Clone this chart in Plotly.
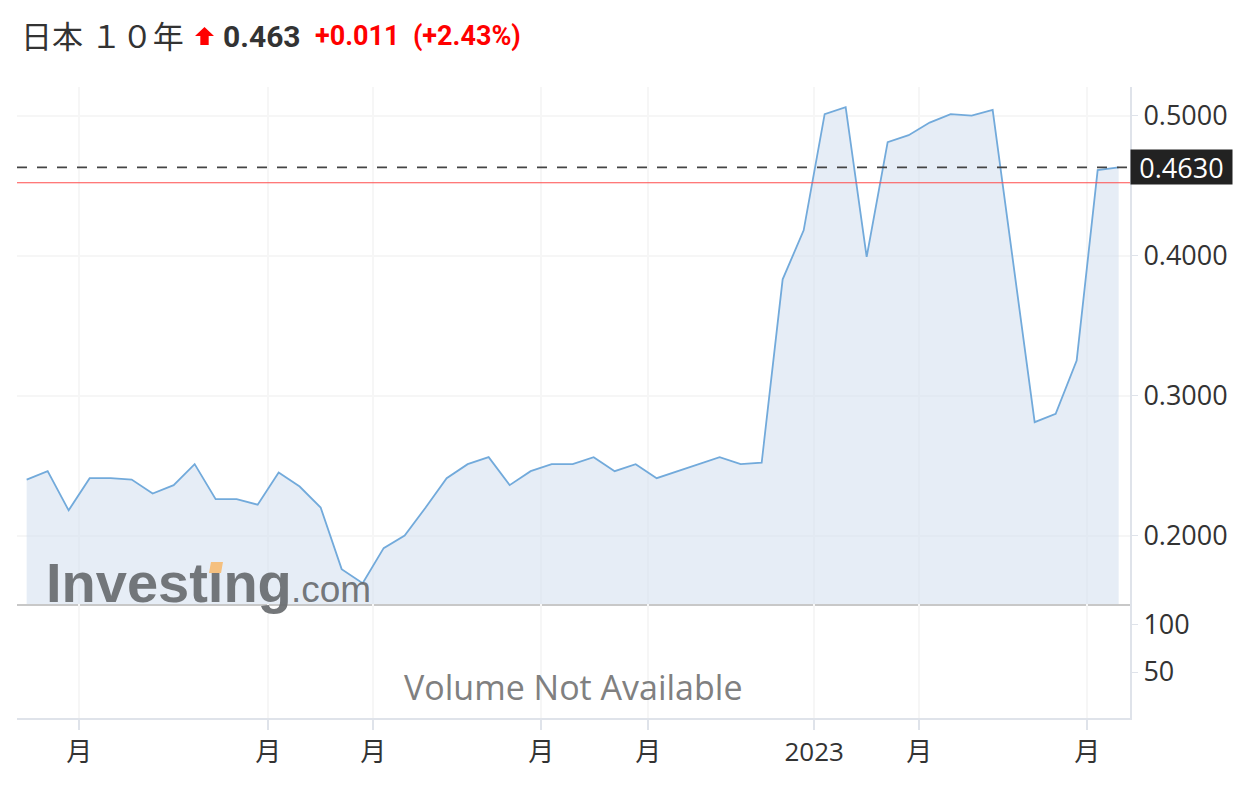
import plotly.graph_objects as go

# ---------------- data ----------------
weeks = list(range(53))
yields = [0.240, 0.246, 0.218, 0.241, 0.241, 0.240, 0.230, 0.236, 0.251, 0.226,
          0.226, 0.222, 0.245, 0.235, 0.220, 0.176, 0.166, 0.191, 0.200, 0.220,
          0.241, 0.251, 0.256, 0.236, 0.246, 0.251, 0.251, 0.256, 0.246, 0.251,
          0.241, 0.246, 0.251, 0.256, 0.251, 0.252, 0.383, 0.418, 0.501, 0.506,
          0.399, 0.481, 0.486, 0.495, 0.501, 0.500, 0.504, 0.392, 0.281, 0.287,
          0.325, 0.461, 0.463]
tick_pos = [2.5, 11.5, 16.5, 24.5, 29.6, 37.5, 42.5, 50.5]
tick_text = ["月", "月", "月", "月", "月", "2023", "月", "月"]
price_ticks = [0.2, 0.3, 0.4, 0.5]
price_tick_text = ["0.2000", "0.3000", "0.4000", "0.5000"]
vol_ticks = [50, 100]
last_value = 0.463
prev_close = 0.452
change_text = "+0.011\u00a0\u00a0(+2.43%)"
title_text = "日本\u2005１０年"

# ---------------- layout helpers ----------------
OFF = 8  # page body margin
W, H = 1250, 796
ML, MT = 17 - OFF, 87 - OFF
MR = W - (1130 - OFF)
MB = H - (718 - OFF)
PW, PH = W - ML - MR, H - MT - MB
VOL_FRAC = 114 / PH


def px(xp):
    return (xp - OFF - ML) / PW


def py(yp):
    return (H - MB - (yp - OFF)) / PH


FONT = "Open Sans, Noto Sans CJK JP, sans-serif"
GRID = "#f6f6f6"

fig = go.Figure()
fig.add_trace(go.Scatter(
    x=weeks, y=yields, mode="lines",
    line=dict(color="#72aadb", width=1.8),
    fill="tozeroy", fillcolor="rgba(205,219,238,0.5)",
    xaxis="x", yaxis="y", showlegend=False, hoverinfo="skip"))
fig.add_trace(go.Scatter(
    x=weeks, y=[None] * len(weeks), mode="lines",
    xaxis="x2", yaxis="y2", showlegend=False, hoverinfo="skip"))

# reference lines
fig.add_shape(type="line", xref="x domain", yref="y", x0=0, x1=1,
              y0=prev_close, y1=prev_close, line=dict(color="#ff4d4d", width=1))
fig.add_shape(type="line", xref="x domain", yref="y", x0=0, x1=1,
              y0=last_value, y1=last_value,
              line=dict(color="#444444", width=1.8, dash="10px,10px"))

xr = [-0.46, 52.54]
fig.update_layout(
    width=W, height=H,
    margin=dict(l=ML, r=MR, t=MT, b=MB),
    paper_bgcolor="white", plot_bgcolor="white",
    xaxis=dict(domain=[0, 1], anchor="y", range=xr, tickvals=tick_pos,
               showticklabels=False, showgrid=True, gridcolor=GRID, gridwidth=1.5,
               zeroline=False, showline=True, linecolor="#c8c8c8", linewidth=2,
               ticks=""),
    xaxis2=dict(domain=[0, 1], anchor="y2", range=xr, matches="x",
                tickvals=tick_pos, ticktext=tick_text,
                showgrid=True, gridcolor=GRID, gridwidth=1.5, zeroline=False,
                showline=True, linecolor="#dfe3ea", linewidth=2,
                ticks="outside", ticklen=10, tickcolor="#dfe3ea", tickwidth=1.5,
                tickfont=dict(family=FONT, size=26, color="#333333")),
    yaxis=dict(domain=[VOL_FRAC, 1], anchor="x", side="right",
               range=[0.1511, 0.5204], tickvals=price_ticks, ticktext=price_tick_text,
               showgrid=True, gridcolor=GRID, gridwidth=1.5, zeroline=False,
               showline=True, linecolor="#dfe3ea", linewidth=2,
               ticks="outside", ticklen=6, tickcolor="#dfe3ea",
               ticklabelstandoff=0,
               tickfont=dict(family=FONT, size=27, color="#333333")),
    yaxis2=dict(domain=[0, VOL_FRAC], anchor="x2", side="right",
                range=[2, 121], tickvals=vol_ticks,
                showgrid=False, zeroline=False,
                showline=True, linecolor="#dfe3ea", linewidth=2,
                ticks="outside", ticklen=6, tickcolor="#dfe3ea",
                ticklabelstandoff=0,
                tickfont=dict(family=FONT, size=27, color="#333333")),
)

anns = []
# last value label
anns.append(dict(x=1, xref="paper", xanchor="left", y=last_value, yref="y",
                 yanchor="middle", text=f"{last_value:.4f}", showarrow=False,
                 width=101, height=34, borderpad=0, bgcolor="#222222",
                 font=dict(family=FONT, size=27, color="white"), align="center"))
# title pieces
anns.append(dict(x=px(19), xref="paper", xanchor="left", y=py(35), yref="paper",
                 yanchor="middle", text=title_text, showarrow=False,
                 font=dict(family="Noto Sans CJK JP", size=31, color="#333333")))
anns.append(dict(x=px(221), xref="paper", xanchor="left", y=py(36), yref="paper",
                 yanchor="middle", text=f"<b>{last_value}</b>", showarrow=False,
                 font=dict(family="Roboto", size=30, color="#333333")))
anns.append(dict(x=px(313), xref="paper", xanchor="left", y=py(36), yref="paper",
                 yanchor="middle", text=f"<b>{change_text}</b>", showarrow=False,
                 font=dict(family="Roboto", size=27, color="#ff0000")))
# watermark (dotless i; the orange dot is drawn as a shape)
LOGO = "rgba(104,107,111,0.92)"
anns.append(dict(x=px(44), xref="paper", xanchor="left", y=py(582), yref="paper",
                 yanchor="middle", text="<b>Investıng</b>", showarrow=False,
                 font=dict(family="Liberation Sans", size=56, color=LOGO)))
anns.append(dict(x=px(289), xref="paper", xanchor="left", y=py(589), yref="paper",
                 yanchor="middle", text=".com", showarrow=False,
                 font=dict(family="Liberation Sans", size=37, color=LOGO)))
# volume note
anns.append(dict(x=px(573), xref="paper", xanchor="center", y=py(687), yref="paper",
                 yanchor="middle", text="Volume Not Available", showarrow=False,
                 font=dict(family=FONT, size=34, color="#808080")))
fig.update_layout(annotations=anns)

# red up arrow in title
ax0, ax1, ay0, ay1 = px(195), px(214), py(27), py(45)
amid = (ax0 + ax1) / 2
sw = (ax1 - ax0) * 0.22
hy = py(36)
path = (f"M {amid} {ay0} L {ax1} {hy} L {amid + sw} {hy} L {amid + sw} {ay1} "
        f"L {amid - sw} {ay1} L {amid - sw} {hy} L {ax0} {hy} Z")
fig.add_shape(type="path", xref="paper", yref="paper", path=path,
              fillcolor="#ff0000", line=dict(width=0))
# orange accent on the watermark "i"
fig.add_shape(type="path", xref="paper", yref="paper",
              path=f"M {px(209)} {py(573)} L {px(221)} {py(573)} L {px(223)} {py(562)} L {px(211)} {py(562)} Z",
              fillcolor="rgba(245,190,120,0.95)", line=dict(width=0))

fig.write_html("out.html")
